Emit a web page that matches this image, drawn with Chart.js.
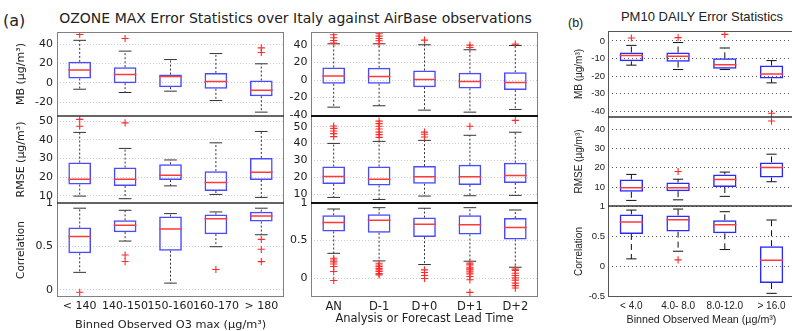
<!DOCTYPE html>
<html>
<head>
<meta charset="utf-8">
<script src="https://cdn.jsdelivr.net/npm/chart.js@4.4.1/dist/chart.umd.min.js"></script>
<style>
html, body { margin: 0; padding: 0; background: #fff; overflow: hidden; width: 792px; height: 331px; }
canvas { position: absolute; top: 0; }
.t { position: absolute; white-space: nowrap; color: #222; line-height: 1; }
</style>
</head>
<body>
<div class="t" style="left:3px;top:13px;font-size:16px;font-family:'DejaVu Sans'">(a)</div>
<div class="t" style="left:57px;width:477px;text-align:center;top:11px;font-size:14px;font-family:'DejaVu Sans'">OZONE MAX Error Statistics over Italy against AirBase observations</div>
<div class="t" style="left:568px;top:17px;font-size:12.5px;font-family:'Liberation Sans'">(b)</div>
<div class="t" style="left:612px;width:180px;text-align:center;top:10px;font-size:13px;font-family:'Liberation Sans'">PM10 DAILY Error Statistics</div>
<canvas id="cA" width="290" height="331" style="left:0"></canvas>
<canvas id="cM" width="262" height="331" style="left:284px"></canvas>
<canvas id="cB" width="240" height="331" style="left:560px"></canvas>
<script>
// categories
const binCats = ['< 140', '140-150', '150-160', '160-170', '> 180'];
const leadCats = ['AN', 'D-1', 'D+0', 'D+1', 'D+2'];
const pmCats = ['< 4.0', '4.0- 8.0', '8.0-12.0', '> 16.0'];

// (a) left: binned O3 max -- MB
const binMbLo = [-6.6, -10, -8.6, -18.3, -30.3];
const binMbQ1 = [4.5, -0.3, -4.5, -6.2, -13.8];
const binMbMed = [13.4, 8.6, 6.6, 1.4, -7.6];
const binMbQ3 = [21.7, 16.2, 8.6, 10.3, 2.4];
const binMbHi = [44, 32.8, 24.1, 30.3, 19.7];
const binMbOut = [[50], [45.9], [], [], [36.2, 31.4]];
// RMSE
const binRmLo = [9.8, 8.4, 15.3, 10.7, 9.1];
const binRmQ1 = [16, 15.2, 18.4, 12.5, 18.5];
const binRmMed = [18.9, 18.9, 21, 17.1, 22.6];
const binRmQ3 = [27.8, 25.1, 26.9, 23.2, 30.3];
const binRmHi = [44, 35.4, 29.2, 38.4, 44.5];
const binRmOut = [[51, 47.3], [49.1], [], [], []];
// Correlation
const binCoLo = [0.2, 0.561, 0.076, 0.496, 0.634];
const binCoQ1 = [0.42, 0.664, 0.45, 0.641, 0.786];
const binCoMed = [0.615, 0.744, 0.70, 0.817, 0.851];
const binCoQ3 = [0.718, 0.80, 0.844, 0.866, 0.90];
const binCoHi = [0.94, 0.916, 0.878, 0.897, 0.94];
const binCoOut = [[-0.03], [0.40, 0.325], [], [0.233], [0.58, 0.466, 0.324]];

// (a) middle: lead time -- MB
const leadMbLo = [-30.9, -29.3, -34.3, -36.6, -33.5];
const leadMbQ1 = [-4.2, -4.2, -8, -9.5, -11.4];
const leadMbMed = [4.6, 4.2, 0.8, -1.5, -2.7];
const leadMbQ3 = [14.5, 14.1, 11, 8.4, 9.1];
const leadMbHi = [41.5, 41.5, 40.4, 34.7, 39.6];
const leadMbOut = [[42.3, 45.3, 48.4, 51.8], [41.9, 45, 47.6, 50.3, 53], [45.7], [37.3, 40], [41.1]];
// RMSE
const leadRmLo = [8.2, 7, 9, 9.2, 9.4];
const leadRmQ1 = [16.1, 15.3, 16.3, 15.5, 16.7];
const leadRmMed = [20.6, 18.9, 20.4, 20.4, 21.2];
const leadRmQ3 = [26.4, 26.4, 26.7, 27.5, 28.7];
const leadRmHi = [40.1, 41.3, 41.9, 44.9, 46.7];
const leadRmOut = [[44.1, 45.9, 47.4, 49, 50.4], [43.7, 45.3, 46.8, 48.6, 50.2, 51.8, 53.3], [43.9, 45.5, 46.8], [50.2], [53.7]];
// Correlation
const leadCoLo = [0.33, 0.229, 0.181, 0.225, 0.145];
const leadCoQ1 = [0.621, 0.604, 0.546, 0.581, 0.515];
const leadCoMed = [0.74, 0.771, 0.718, 0.709, 0.674];
const leadCoQ3 = [0.837, 0.85, 0.806, 0.837, 0.80];
const leadCoHi = [0.92, 0.938, 0.93, 0.938, 0.907];
const leadCoOut = [
  [0.264, 0.242, 0.216, 0.189, 0.154, 0.088, -0.031],
  [0.198, 0.175, 0.154, 0.13, 0.11, 0.088, 0.06, 0.044],
  [0.11, 0.075, 0.035, -0.004],
  [0.2, 0.176, 0.145, 0.125, 0.11, 0.084, 0.057, 0.022, -0.022, -0.19],
  [0.12, 0.101, 0.066, 0.035, 0.004, -0.026, -0.066, -0.1, -0.132]
];

// (b) PM10 -- MB
const pmMbLo = [-13.8, -16.3, -16.3, -23.9];
const pmMbQ1 = [-11.6, -11.8, -15.9, -21.4];
const pmMbMed = [-8.3, -8.7, -13.5, -18.8];
const pmMbQ3 = [-6.6, -6.6, -9.9, -14];
const pmMbHi = [-2.5, -0.9, -4, -11.2];
const pmMbOut = [[1.7], [1.9], [3.8], [-41.3]];
// RMSE
const pmRmLo = [3.1, 3.4, 5.2, 12.8];
const pmRmQ1 = [7.6, 7.9, 10, 15];
const pmRmMed = [9.7, 9.7, 14, 20.2];
const pmRmQ3 = [14, 12.4, 16.6, 22.8];
const pmRmHi = [16.6, 14.1, 17.8, 27.1];
const pmRmOut = [[], [18.1], [], [44.3]];
// Correlation
const pmCoLo = [0.121, 0.248, 0.276, -0.452];
const pmCoQ1 = [0.535, 0.574, 0.546, -0.281];
const pmCoMed = [0.734, 0.772, 0.689, 0.099];
const pmCoQ3 = [0.86, 0.844, 0.761, 0.331];
const pmCoHi = [0.932, 0.949, 0.905, 0.767];
const pmCoOut = [[], [0.105], [], []];

// axis ticks
const mbTicksA = [-20, 0, 20, 40];
const mbTicksM = [-40, -20, 0, 20, 40];
const rmTicksA = [10, 20, 30, 40, 50];
const coTicksA = [0, 0.5, 1];
const mbTicksB = [-40, -30, -20, -10, 0];
const rmTicksB = [10, 20, 30, 40];
const coTicksB = [-0.5, 0, 0.5, 1];

Chart.defaults.font.family = "'DejaVu Sans'";
Chart.defaults.color = '#222';

const frames = {
  id: 'frames',
  afterDatasetsDraw(chart, args, o) {
    const {ctx, chartArea: a} = chart;
    ctx.save();
    const ys = Object.values(chart.scales).filter(s => s.axis === 'y').sort((p, q) => p.top - q.top);
    ctx.strokeStyle = o.color;
    ctx.lineWidth = 1;
    ctx.strokeRect(a.left + 0.5, a.top + 0.5, a.width - 1, a.height - 1);
    ctx.strokeStyle = o.sep;
    ctx.lineWidth = o.sepWidth;
    ys.slice(1).forEach(s => {
      ctx.beginPath();
      ctx.moveTo(a.left, Math.round(s.top));
      ctx.lineTo(a.right, Math.round(s.top));
      ctx.stroke();
    });
    ctx.restore();
  }
};

function boxSets(p, yID, look) {
  const box = [], whisk = [], caps = [], meds = [], outs = [];
  p.q1.forEach((q1, i) => {
    const x = i + 1;
    box.push({x, y: [q1, p.q3[i]]});
    whisk.push({x, y: p.q3[i]}, {x, y: p.hi[i]}, {x, y: null}, {x, y: q1}, {x, y: p.lo[i]}, {x, y: null});
    caps.push({x: x - look.cap, y: p.hi[i]}, {x: x + look.cap, y: p.hi[i]}, {x, y: null},
              {x: x - look.cap, y: p.lo[i]}, {x: x + look.cap, y: p.lo[i]}, {x, y: null});
    meds.push({x: x - 0.25, y: p.med[i]}, {x: x + 0.25, y: p.med[i]}, {x, y: null});
    p.out[i].forEach(v => outs.push({x, y: v}));
  });
  const line = {type: 'line', yAxisID: yID, pointRadius: 0, fill: false, tension: 0, spanGaps: false};
  return [
    {type: 'bar', yAxisID: yID, data: box, backgroundColor: 'rgba(0,0,0,0)', borderColor: look.boxColor,
     borderWidth: look.boxWidth, borderSkipped: false, grouped: false, categoryPercentage: 1, barPercentage: 0.5, order: 2},
    {...line, data: whisk, borderColor: look.whiskColor, borderWidth: 1, borderDash: look.whiskDash, order: 3},
    {...line, data: caps, borderColor: look.whiskColor, borderWidth: 1, order: 3},
    {...line, data: meds, borderColor: '#ff3a3a', borderWidth: 1.5, order: 1},
    {type: 'scatter', yAxisID: yID, data: outs, pointStyle: 'cross', pointRadius: 3.6, pointBorderColor: '#ff2a2a',
     pointBackgroundColor: '#ff2a2a', pointBorderWidth: 1.1, order: 0}
  ];
}

function column(canvasId, cats, xTitle, panels, look) {
  const scales = {
    x: {
      type: 'linear', min: 0.5, max: cats.length + 0.5, offset: false,
      grid: {display: false, drawTicks: false}, border: {display: false},
      afterBuildTicks: s => { s.ticks = cats.map((c, i) => ({value: i + 1})); },
      afterFit: s => { s.height = look.xHeight; },
      ticks: {autoSkip: false, maxRotation: 0, minRotation: 0, padding: look.xPad, font: look.xFont,
              callback: v => cats[v - 1]},
      title: {display: true, text: xTitle, font: look.xTitleFont, padding: {top: 0, bottom: look.xTitlePad}}
    }
  };
  let datasets = [];
  panels.forEach((p, k) => {
    const id = 'y' + k;
    scales[id] = {
      type: 'linear', position: 'left', stack: 'col', stackWeight: p.weight, weight: panels.length - k,
      min: p.min, max: p.max, offset: false,
      afterBuildTicks: s => { s.ticks = p.ticks.map(v => ({value: v})); },
      afterFit: s => { s.width = look.yWidth; },
      grid: {color: look.gridColor, lineWidth: 1, drawTicks: false},
      border: {display: false, dash: look.gridDash},
      ticks: {autoSkip: false, padding: look.yPad, font: look.yFont, callback: v => String(v)},
      title: {display: !!p.title, text: p.title, font: p.titleFont || look.yTitleFont,
              padding: {top: look.yTitlePad, bottom: 0}}
    };
    datasets = datasets.concat(boxSets(p, id, look));
  });
  return new Chart(document.getElementById(canvasId), {
    type: 'scatter',
    data: {datasets},
    options: {
      responsive: false, animation: false, events: [],
      layout: {padding: look.pad},
      plugins: {legend: {display: false}, tooltip: {enabled: false},
                frames: {color: look.frameColor, sep: look.sepColor, sepWidth: look.sepWidth}},
      scales
    },
    plugins: [frames]
  });
}

const lookA = {
  pad: {left: 0, top: 32, right: 6, bottom: 0}, yWidth: 57, xHeight: 34, yPad: 4, xPad: 3,
  xFont: {size: 11}, yFont: {size: 11}, yTitleFont: {size: 11}, yTitlePad: 15,
  xTitleFont: {size: 11.3, lineHeight: 1}, xTitlePad: 0,
  gridColor: '#cfcfcf', gridDash: [1, 2], boxColor: '#4a4aff', boxWidth: 1.5,
  whiskColor: '#333', whiskDash: [2, 2], cap: 0.14,
  frameColor: '#808080', sepColor: '#333', sepWidth: 1.5
};
const lookM = {...lookA, pad: {left: 0, top: 32, right: 8, bottom: 0}, yWidth: 27, yPad: 3.5,
  xFont: {size: 11.5}, xTitleFont: {size: 11.5}, xTitlePad: 5, sepColor: '#111', sepWidth: 2};
const lookB = {
  pad: {left: 0, top: 31, right: 4, bottom: 0}, yWidth: 48, xHeight: 34, yPad: 3, xPad: 3,
  xFont: {size: 10, family: "'Liberation Sans'"}, yFont: {size: 9.5, family: "'Liberation Sans'"},
  yTitleFont: {size: 10, family: "'Liberation Sans'"}, yTitlePad: 13,
  xTitleFont: {size: 10.7, family: "'Liberation Sans'"}, xTitlePad: 4.5,
  gridColor: '#555', gridDash: [1, 3], boxColor: '#2a2aff', boxWidth: 1.5,
  whiskColor: '#111', whiskDash: [6, 4], cap: 0.11,
  frameColor: '#555', sepColor: '#333', sepWidth: 1.5
};

column('cA', binCats, 'Binned Observed O3 max (µg/m³)', [
  {title: 'MB (µg/m³)', lo: binMbLo, q1: binMbQ1, med: binMbMed, q3: binMbQ3, hi: binMbHi, out: binMbOut,
   min: -34.3, max: 52.6, ticks: mbTicksA, weight: 84},
  {title: 'RMSE (µg/m³)', lo: binRmLo, q1: binRmQ1, med: binRmMed, q3: binRmQ3, hi: binRmHi, out: binRmOut,
   min: 6.1, max: 52.8, ticks: rmTicksA, weight: 87},
  {title: 'Correlation', titleFont: {size: 10.5}, lo: binCoLo, q1: binCoQ1, med: binCoMed, q3: binCoQ3, hi: binCoHi, out: binCoOut,
   min: -0.084, max: 1.0, ticks: coTicksA, weight: 94}
], lookA);

column('cM', leadCats, 'Analysis or Forecast Lead Time', [
  {lo: leadMbLo, q1: leadMbQ1, med: leadMbMed, q3: leadMbQ3, hi: leadMbHi, out: leadMbOut,
   min: -41, max: 55, ticks: mbTicksM, weight: 84},
  {lo: leadRmLo, q1: leadRmQ1, med: leadRmMed, q3: leadRmQ3, hi: leadRmHi, out: leadRmOut,
   min: 4.9, max: 56.3, ticks: rmTicksA, weight: 87},
  {lo: leadCoLo, q1: leadCoQ1, med: leadCoMed, q3: leadCoQ3, hi: leadCoHi, out: leadCoOut,
   min: -0.251, max: 1.0, ticks: coTicksA, weight: 94}
], lookM);

column('cB', pmCats, 'Binned Observed Mean (µg/m³)', [
  {title: 'MB (µg/m³)', lo: pmMbLo, q1: pmMbQ1, med: pmMbMed, q3: pmMbQ3, hi: pmMbHi, out: pmMbOut,
   min: -43.4, max: 5.7, ticks: mbTicksB, weight: 86},
  {title: 'RMSE (µg/m³)', lo: pmRmLo, q1: pmRmQ1, med: pmRmMed, q3: pmRmQ3, hi: pmRmHi, out: pmRmOut,
   min: 0.2, max: 46.4, ticks: rmTicksB, weight: 89},
  {title: 'Correlation', lo: pmCoLo, q1: pmCoQ1, med: pmCoMed, q3: pmCoQ3, hi: pmCoHi, out: pmCoOut,
   min: -0.513, max: 1.0, ticks: coTicksB, weight: 91}
], lookB);
</script>
</body>
</html>
